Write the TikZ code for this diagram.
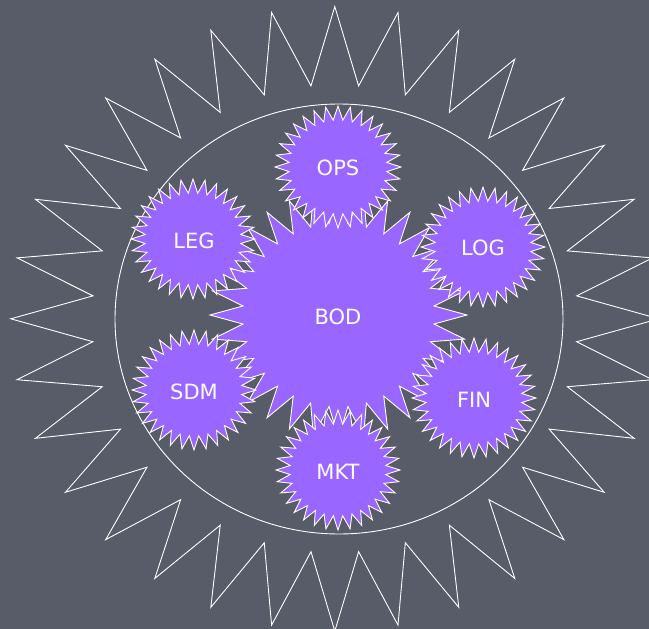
\documentclass[tikz,border=0pt]{standalone}
\usepackage{fontspec}
\setmainfont{DejaVu Sans}
\definecolor{bgslate}{RGB}{88,91,104}
\definecolor{starpurple}{RGB}{153,102,255}
\newcommand\starshape[8]{%
  % #1 style, #2 cx, #3 cy, #4 outer rx, #5 outer ry, #6 inner rx, #7 inner ry, #8 points
  \path[#1] plot[samples at={0,...,63}, variable=\k]
    ({#2+ifthenelse(isodd(\k),#6,#4)*cos(\k*180/#8)},
     {#3-ifthenelse(isodd(\k),#7,#5)*sin(\k*180/#8)}) -- cycle;}
\begin{document}
\begin{tikzpicture}[x=1pt,y=-1pt,
  outline/.style={draw=white,line width=0.9pt,line join=miter},
  burst/.style={fill=starpurple,draw=white,line width=0.9pt},
  lbl/.style={text=white,font=\fontsize{21}{25}\selectfont,inner sep=0pt}]
\useasboundingbox (0,0) rectangle (649,629);
\fill[bgslate] (0,0) rectangle (649,629);
\clip (0,0) rectangle (649,629);
% outer big star outline
\starshape{outline}{334.8}{318.8}{324}{312.3}{243}{234}{32}
% ring
\draw[draw=white,line width=0.9pt] (339,319) ellipse [x radius=224, y radius=215];
% central burst
\starshape{burst}{338.5}{315}{128.5}{123.5}{96}{92}{32}
% satellites
\starshape{burst}{338}{167}{63}{61}{49}{47}{32}
\starshape{burst}{193}{239}{62}{60}{48}{46}{32}
\starshape{burst}{483}{247}{62}{60}{48}{46}{32}
\starshape{burst}{194}{390}{62}{60}{48}{46}{32}
\starshape{burst}{474}{398}{62}{60}{48}{46}{32}
\starshape{burst}{338}{470}{62}{60}{48}{46}{32}
% labels
\node[lbl] (bod) at (338,317) {BOD};
\node[lbl] (ops) at (338,168) {OPS};
\node[lbl] (leg) at (194,241) {LEG};
\node[lbl] (log) at (483,248) {LOG};
\node[lbl] (sdm) at (194,392) {SDM};
\node[lbl] (fin) at (474,400) {FIN};
\node[lbl] (mkt) at (338,472) {MKT};
\end{tikzpicture}
\end{document}
